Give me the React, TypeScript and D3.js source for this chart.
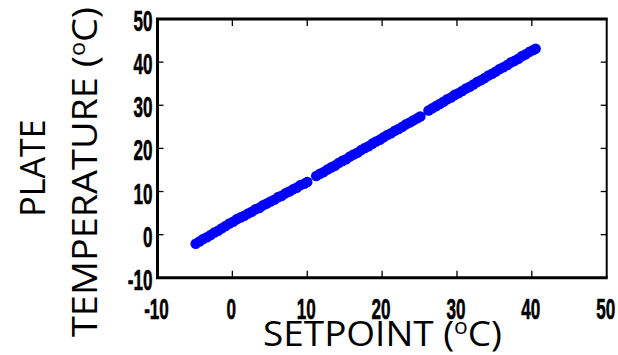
import React from "react";
import * as d3 from "d3";

// Measured plate temperature (°C) against controller setpoint (°C), three runs
const setpoint: number[] = [
  -4.9, -4.4, -3.9, -3.4, -2.9, -2.4, -1.9, -1.4, -0.9, -0.4, 0.1, 0.6, 1.1, 1.6, 2.1, 2.6,
  3.1, 3.6, 4.1, 4.6, 5.1, 5.6, 6.1, 6.6, 7.1, 7.6, 8.1, 8.6, 9.1, 9.6, 10.0,
  11.2, 11.7, 12.2, 12.7, 13.2, 13.7, 14.2, 14.7, 15.2, 15.7, 16.2, 16.7, 17.2, 17.7, 18.2,
  18.7, 19.2, 19.7, 20.2, 20.7, 21.2, 21.7, 22.2, 22.7, 23.2, 23.7, 24.2, 24.7, 25.1,
  26.2, 26.7, 27.2, 27.7, 28.2, 28.7, 29.2, 29.7, 30.2, 30.7, 31.2, 31.7, 32.2, 32.7, 33.2,
  33.7, 34.2, 34.7, 35.2, 35.7, 36.2, 36.7, 37.2, 37.7, 38.2, 38.7, 39.2, 39.7, 40.2, 40.5,
];
const plateTemp: number[] = [
  -2.1, -1.6, -1.0, -0.6, -0.1, 0.5, 0.9, 1.5, 2.0, 2.6, 3.0, 3.6, 4.0, 4.4, 4.9, 5.3,
  5.9, 6.2, 6.8, 7.2, 7.7, 8.1, 8.7, 9.0, 9.6, 10.0, 10.5, 10.9, 11.5, 11.8, 12.2,
  13.6, 14.1, 14.5, 15.1, 15.6, 16.0, 16.6, 17.1, 17.5, 18.1, 18.6, 19.0, 19.6, 20.1, 20.5,
  21.1, 21.6, 22.0, 22.6, 23.1, 23.5, 24.1, 24.5, 25.0, 25.6, 26.0, 26.5, 27.0, 27.4,
  28.8, 29.3, 29.8, 30.3, 30.8, 31.4, 31.8, 32.4, 32.8, 33.3, 33.9, 34.3, 34.8, 35.4, 35.8,
  36.3, 36.9, 37.3, 37.8, 38.4, 38.8, 39.3, 39.9, 40.3, 40.8, 41.4, 41.8, 42.4, 42.8, 43.1,
];
const xTicks: number[] = [-10, 0, 10, 20, 30, 40, 50];
const yTicks: number[] = [-10, 0, 10, 20, 30, 40, 50];

const W = 618;
const H = 355;
const L = 157.5;
const R = 606.7;
const T = 19;
const B = 277.8;

const tickFont = "'Liberation Sans', Arial, sans-serif";
const titleFont = "'Open Sans', 'Noto Sans', sans-serif";

export default function App() {
  const x = d3.scaleLinear().domain([-10, 50]).range([L, R]);
  const y = d3.scaleLinear().domain([-10, 50]).range([B, T]);
  const points = setpoint.map((s, i) => [s, plateTemp[i]] as [number, number]);

  return (
    <svg
      width={W}
      height={H}
      style={{ position: "absolute", left: 0, top: 0, background: "#fff" }}
    >
      {/* data */}
      {points.map(([s, t], i) => (
        <circle key={i} cx={x(s)} cy={y(t)} r={5.3} fill="#0000ff" />
      ))}

      {/* inner ticks */}
      {xTicks.slice(1, -1).map((v) => (
        <g key={"xt" + v} stroke="#000" strokeWidth={1.3}>
          <line x1={x(v)} x2={x(v)} y1={B} y2={B - 7} />
          <line x1={x(v)} x2={x(v)} y1={T} y2={T + 7} />
        </g>
      ))}
      {yTicks.slice(1, -1).map((v) => (
        <g key={"yt" + v} stroke="#000" strokeWidth={1.3}>
          <line x1={L} x2={L + 6} y1={y(v)} y2={y(v)} />
          <line x1={R} x2={R - 6} y1={y(v)} y2={y(v)} />
        </g>
      ))}

      {/* box */}
      <line x1={L - 1.5} x2={R + 1} y1={T} y2={T} stroke="#000" strokeWidth={3} />
      <line x1={L - 1.5} x2={R + 1} y1={B} y2={B} stroke="#000" strokeWidth={3} />
      <line x1={L} x2={L} y1={T} y2={B} stroke="#000" strokeWidth={3} />
      <line x1={R} x2={R} y1={T} y2={B} stroke="#000" strokeWidth={2} />

      {/* tick labels */}
      {xTicks.map((v) => (
        <text
          key={"xl" + v}
          transform={`translate(${x(v) - 1},319) scale(0.57,1)`}
          textAnchor="middle"
          fontFamily={tickFont}
          fontWeight="bold"
          fontSize={30}
          fill="#000"
          stroke="#000"
          strokeWidth={0.6}
        >
          {v}
        </text>
      ))}
      {yTicks.map((v) => (
        <text
          key={"yl" + v}
          transform={`translate(152.5,${y(v) + 12}) scale(0.57,1)`}
          textAnchor="end"
          fontFamily={tickFont}
          fontWeight="bold"
          fontSize={30}
          fill="#000"
          stroke="#000"
          strokeWidth={0.6}
        >
          {v}
        </text>
      ))}

      {/* axis titles */}
      <text
        x={263}
        y={346}
        fontFamily={titleFont}
        fontSize={34}
        fill="#000"
        textLength={239}
        lengthAdjust="spacingAndGlyphs"
      >
        SETPOINT (
        <tspan fontSize={21} dy={-12}>o</tspan>
        <tspan dy={12}>C)</tspan>
      </text>

      <g transform="translate(45,168) rotate(-90)">
        <text
          x={0}
          y={0}
          textAnchor="middle"
          fontFamily={titleFont}
          fontSize={34}
          fill="#000"
        >
          PLATE
        </text>
      </g>
      <g transform="translate(96.7,337) rotate(-90)">
        <text
          x={0}
          y={0}
          fontFamily={titleFont}
          fontSize={34}
          fill="#000"
          textLength={330}
          lengthAdjust="spacingAndGlyphs"
        >
          TEMPERATURE (
          <tspan fontSize={21} dy={-12}>o</tspan>
          <tspan dy={12}>C)</tspan>
        </text>
      </g>
    </svg>
  );
}
